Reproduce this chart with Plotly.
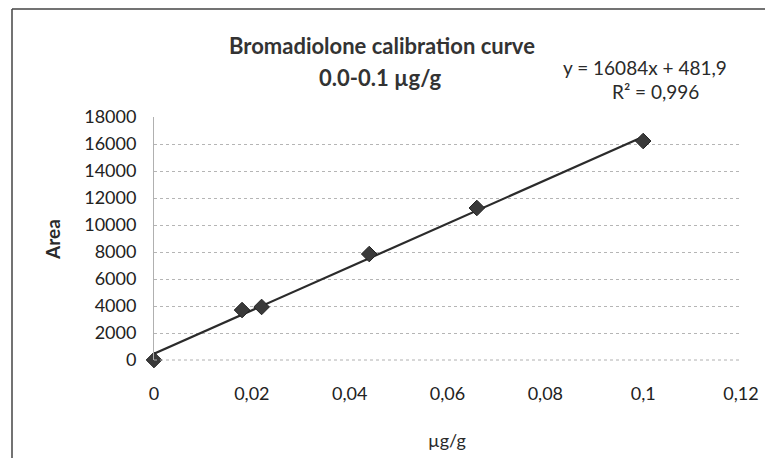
import numpy as np
import plotly.graph_objects as go

conc = [0.0, 0.018, 0.022, 0.044, 0.066, 0.1]
area = [0, 3700, 3930, 7850, 11260, 16220]
title_lines = ["Bromadiolone calibration curve", "0.0-0.1 µg/g"]
equation_label = "y = 16084x + 481,9"
r2_label = "R² = 0,996"
x_title = "µg/g"
y_title = "Area"
x_ticks = [0, 0.02, 0.04, 0.06, 0.08, 0.1, 0.12]
x_tick_labels = ["0", "0,02", "0,04", "0,06", "0,08", "0,1", "0,12"]
y_ticks = list(range(0, 18001, 2000))
y_tick_labels = [str(v) for v in y_ticks]

# linear trendline through the data points
fit_slope, fit_intercept = np.polyfit(conc, area, 1)
fit_x = [min(conc), max(conc)]
fit_y = [fit_slope * v + fit_intercept for v in fit_x]

FONT = "Lato"
OFF = 8  # page body margin
W, H = 773 - OFF, 458 - OFF
L, R, T, B = 154 - OFF, 32, 117 - OFF, 98
pw, ph = W - L - R, H - T - B

def px(x):  # page pixel -> paper fraction
    return (x - OFF - L) / pw

def py(y):
    return (T + ph - (y - OFF)) / ph

fig = go.Figure()
fig.add_trace(go.Scatter(
    x=fit_x, y=fit_y, mode="lines",
    line=dict(color="#2b2b2b", width=2.2), showlegend=False, hoverinfo="skip"))
fig.add_trace(go.Scatter(
    x=conc, y=area, mode="markers",
    marker=dict(symbol="diamond", size=12, color="#3a3a3a",
                line=dict(color="#222", width=1)),
    showlegend=False, cliponaxis=False))

def ann(text, x, y, size, angle=0, color="#2a2a2a"):
    return dict(text=text, x=px(x), y=py(y), xref="paper", yref="paper",
                xanchor="center", yanchor="middle", showarrow=False, textangle=angle,
                font=dict(size=size, family=FONT, color=color))

fig.update_layout(
    width=W, height=H,
    margin=dict(l=L, r=R, t=T, b=B, autoexpand=False),
    paper_bgcolor="white", plot_bgcolor="white",
    font=dict(family=FONT, color="#222", size=18),
    xaxis=dict(range=[0, 0.12], tickvals=x_ticks, ticktext=x_tick_labels,
               showgrid=False, zeroline=False, showline=False, ticks="",
               automargin=False, ticklabelstandoff=21,
               tickfont=dict(size=18, family=FONT, color="#222")),
    yaxis=dict(range=[0, 18000], tickvals=y_ticks, ticktext=y_tick_labels,
               showgrid=True, gridcolor="#b5b5b5", griddash="dot", gridwidth=1,
               zeroline=False, showline=True, linecolor="#b0b0b0", linewidth=1, ticks="",
               automargin=False, ticklabelstandoff=13,
               tickfont=dict(size=18, family=FONT, color="#222")),
    annotations=[
        ann("<b>%s</b>" % title_lines[0], 382, 45, 22, color="#333"),
        ann("<b>%s</b>" % title_lines[1], 380, 78, 22, color="#333"),
        ann(equation_label, 645, 68, 19),
        ann(r2_label, 655, 92, 19),
        ann("<b>%s</b>" % y_title, 52, 240, 19, angle=-90),
        ann(x_title, 447, 440, 18),
    ],
    shapes=[
        dict(type="line", xref="paper", yref="paper", x0=px(12), x1=px(773),
             y0=py(9), y1=py(9), line=dict(color="#444", width=1.5)),
        dict(type="line", xref="paper", yref="paper", x0=px(12), x1=px(12),
             y0=py(9), y1=py(458), line=dict(color="#444", width=1.5)),
        dict(type="line", xref="paper", yref="paper", x0=0, x1=1,
             y0=0, y1=0, line=dict(color="#b0b0b0", width=1, dash="dot")),
    ],
)

fig.write_html("out.html")
